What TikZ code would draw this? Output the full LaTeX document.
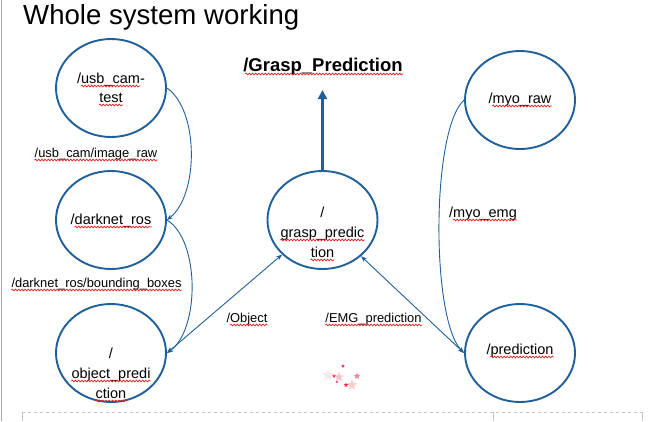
\documentclass[tikz,border=0pt]{standalone}
\usepackage{fontspec}
\setmainfont{Liberation Sans}
\usetikzlibrary{arrows.meta,shapes.geometric,decorations.pathmorphing,calc}
\definecolor{nodeblue}{HTML}{1F5F9A}
\definecolor{squig}{HTML}{E02020}
\definecolor{starred}{HTML}{F0304A}
\newcommand\squig[3]{\draw[squigline] ($(#1.base west)+(#2,3)$) -- ($(#1.base east)+(-#3,3)$);}
\begin{document}
\begin{tikzpicture}[x=1pt,y=-1pt,
  ell/.style={draw=nodeblue,line width=1.9pt,ellipse,minimum width=110pt,minimum height=98pt,inner sep=0pt},
  ntext/.style={font=\fontsize{14.5}{20}\selectfont,anchor=base,inner sep=0pt},
  etext/.style={font=\fontsize{12.9}{15}\selectfont,anchor=base,inner sep=0pt},
  conn/.style={draw=nodeblue,line width=0.9pt},
  tipend/.style={-{Stealth[length=6pt,width=4.5pt]}},
  tipboth/.style={{Stealth[length=6pt,width=4.5pt]}-{Stealth[length=6pt,width=4.5pt]}},
  squigline/.style={draw=squig,line width=0.7pt,decorate,decoration={snake,amplitude=0.9pt,segment length=3.2pt}},
  starS/.style={star,star points=5,star point ratio=2.3,inner sep=0pt,fill=starred,draw=none}
  ]
\useasboundingbox (0,0) rectangle (662,421);

% frame
\draw[gray!70,line width=1pt] (1.5,0) -- (1.5,421);
\draw[gray!45,dashed,line width=0.8pt] (22,412) -- (642,412);
\draw[gray!45,line width=0.8pt] (22,412) -- (22,421);
\draw[gray!45,line width=0.8pt] (493,412) -- (493,421);
\draw[gray!45,line width=0.8pt] (642,412) -- (642,421);

% title
\node[anchor=base west,inner sep=0pt,font=\fontsize{27.6}{30}\selectfont] (title) at (23,24) {Whole system working};

% ellipses
\node[ell] (usb) at (111,88) {};
\node[ell] (dark) at (111,220) {};
\node[ell] (obj) at (111,353) {};
\node[ell] (gp) at (322.5,220) {};
\node[ell] (myo) at (520,100) {};
\node[ell] (pred) at (520,353) {};

% node texts
\node[ntext] (usbA) at (111,83) {/usb\_cam-};
\node[ntext] (usbB) at (111,102) {test};
\node[ntext] (darkT) at (111,224) {/darknet\_ros};
\node[ntext] (objA) at (111,358) {/};
\node[ntext] (objB) at (111,378) {object\_predi};
\node[ntext] (objC) at (111,398) {ction};
\node[ntext] (gpA) at (322.5,217) {/};
\node[ntext] (gpB) at (322.5,237) {grasp\_predic};
\node[ntext] (gpC) at (322.5,257) {tion};
\node[ntext] (myoT) at (520,103) {/myo\_raw};
\node[ntext] (predT) at (520,354) {/prediction};

% output
\node[anchor=base,inner sep=0pt,font=\fontsize{18.5}{22}\selectfont\bfseries] (gpout) at (323,71) {/Grasp\_Prediction};
\coordinate (gpup) at (322.5,90);
\draw[draw=nodeblue,line width=3pt,-{Triangle[length=9pt,width=9pt]}] (gp.north) -- (gpup);

% edge labels
\node[etext] (l1) at (96,157) {/usb\_cam/image\_raw};
\node[etext] (l2) at (96.5,287) {/darknet\_ros/bounding\_boxes};
\node[etext] (l3) at (247,322) {/Object};
\node[etext] (l4) at (373.5,322) {/EMG\_prediction};
\node[ntext] (l5) at (483,217) {/myo\_emg};

% spell-check squiggles
\squig{usbA}{4}{4.8}
\squig{usbB}{0}{0}
\squig{darkT}{4}{0}
\squig{objB}{0}{0}
\squig{objC}{0}{0}
\squig{gpB}{0}{0}
\squig{gpC}{0}{0}
\squig{myoT}{4}{0}
\squig{predT}{4}{0}
\squig{gpout}{2}{0}
\squig{l1}{0}{0}
\squig{l2}{0}{0}
\squig{l3}{3.6}{0}
\squig{l4}{0}{0}
\squig{l5}{4}{0}

% connectors
\draw[conn,tipend] (usb.east) .. controls (199,110) and (199,195) .. (dark.east);
\draw[conn,tipend] (dark.east) .. controls (200,240) and (200,330) .. (obj.east);
\draw[conn,tipend] (myo.west) .. controls (431,130) and (431,320) .. (pred.west);
\draw[conn,tipboth] (obj.east) -- (gp);
\draw[conn,tipboth] (gp) -- (pred.west);

% stars
\node[starS,minimum size=12pt,opacity=0.12] (s4) at (328,375) {};
\node[starS,minimum size=10pt,opacity=0.3] (s3) at (339,377) {};
\node[starS,minimum size=11pt,opacity=0.25] (s6) at (352,385) {};
\node[starS,minimum size=4pt] (s1) at (343,366) {};
\node[starS,minimum size=4pt] (s2) at (334,376) {};
\node[starS,minimum size=5pt] (s5) at (346,385) {};
\node[starS,minimum size=7pt,opacity=0.6] (s7) at (357,376) {};
\node[circle,fill=starred,inner sep=0.8pt] (s8) at (337,382) {};
\end{tikzpicture}
\end{document}
